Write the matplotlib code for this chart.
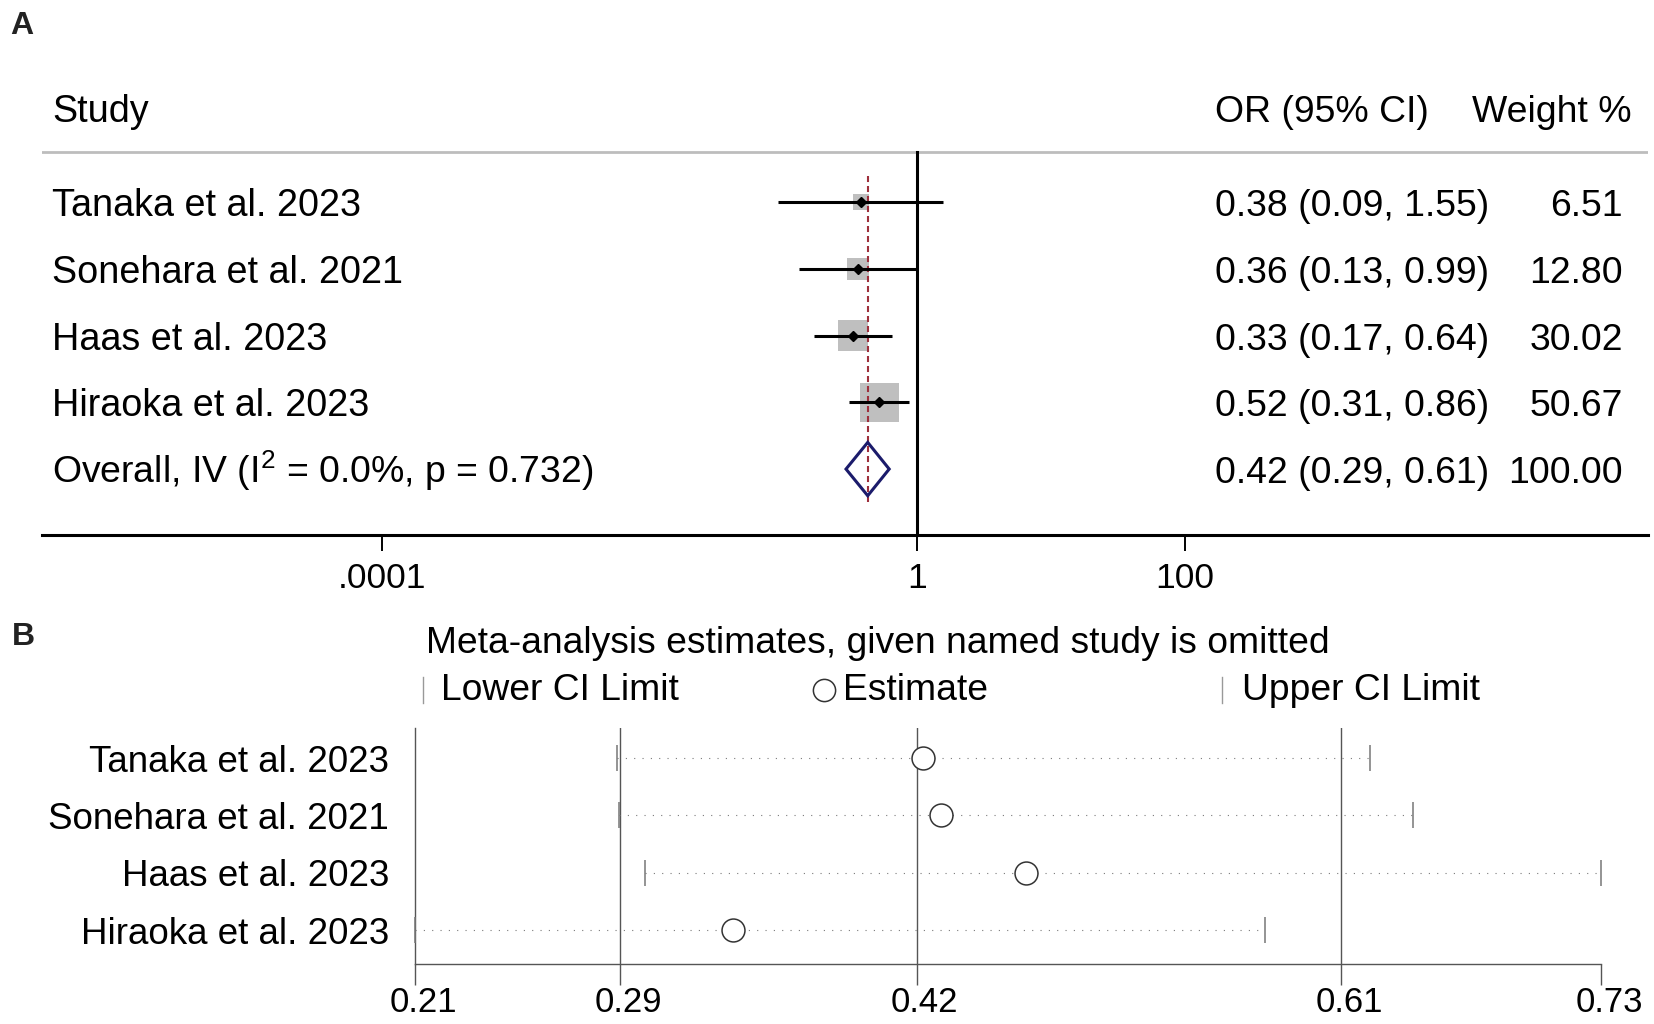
import numpy as np
import matplotlib
matplotlib.use("Agg")
import matplotlib.pyplot as plt
import matplotlib.transforms as mtrans
from matplotlib.lines import Line2D
from matplotlib.patches import Polygon
from matplotlib.ticker import NullLocator

plt.rcParams['font.family'] = ['Liberation Sans', 'DejaVu Sans']
plt.rcParams['mathtext.fontset'] = 'custom'
plt.rcParams['mathtext.rm'] = 'Liberation Sans'

# ---- data, panel A (forest plot)
studies = ["Tanaka et al. 2023", "Sonehara et al. 2021", "Haas et al. 2023", "Hiraoka et al. 2023"]
or_est = [0.38, 0.36, 0.33, 0.52]
or_lo = [0.09, 0.13, 0.17, 0.31]
or_hi = [1.55, 0.99, 0.64, 0.86]
weights = [6.51, 12.80, 30.02, 50.67]
pooled_est = 0.425
pooled_lo = 0.2924
pooled_hi = 0.615
overall_label = r"Overall, IV (I$^{2}$ = 0.0%, p = 0.732)"
a_ticks = [1e-4, 1, 100]
a_ticklabels = [".0001", "1", "100"]

# ---- data, panel B (leave-one-out)
omit_est = [0.428, 0.436, 0.474, 0.343]
omit_lo = [0.291, 0.292, 0.3034, 0.2005]
omit_hi = [0.628, 0.647, 0.7313, 0.581]
b_ticklabels = ["0.21", "0.29", "0.42", "0.61", "0.73"]

W, H = 1654, 1024
fig = plt.figure(figsize=(W / 100, H / 100), dpi=100)


def fx(px):
    return px / W


def fy(py):
    return 1 - py / H


# ================= panel A
axA = fig.add_axes([fx(42), fy(535), fx(1648 - 42), (535 - 60) / H])
rows = np.arange(1, len(studies) + 1)
row_ov = len(studies) + 1
axA.set_xscale('log')
axA.set_xlim(10 ** -6.543, 10 ** 5.46)
axA.set_ylim(5.989, -1.135)
for s in ['top', 'right', 'left']:
    axA.spines[s].set_visible(False)
axA.spines['bottom'].set_linewidth(2.2)
axA.set_xticks(a_ticks)
axA.set_xticklabels(a_ticklabels)
axA.xaxis.set_minor_locator(NullLocator())
axA.tick_params(axis='x', length=11.5, width=1.4, pad=8, labelsize=25.5)
axA.set_yticks([])

# header rule and null line
axA.axhline(0.25, color='#BDBDBD', lw=2, zorder=1)
axA.plot([1, 1], [0.25, 5.989], color='black', lw=2.2, zorder=3, clip_on=False)

# weight boxes
side_pt = (3.2 + 5.03 * np.sqrt(weights)) * 0.72
axA.scatter(or_est, rows, marker='s', s=side_pt ** 2, color='#BFBFBF', linewidths=0, zorder=2)
# pooled line
axA.plot([pooled_est, pooled_est], [0.6, 5.49], color='#9E2F3C', lw=1.5,
         ls=(0, (2.9, 1.9)), zorder=3)
# CIs and point estimates
axA.hlines(rows, or_lo, or_hi, color='black', lw=2.2, zorder=4)
axA.plot(or_est, rows, 'D', ms=5.1, color='black', zorder=5)
# overall diamond
dia = Polygon([[pooled_lo, row_ov], [pooled_est, row_ov - 0.4],
               [pooled_hi, row_ov], [pooled_est, row_ov + 0.4]],
              closed=True, facecolor='none', edgecolor='#1B1B6B', lw=2.2,
              joinstyle='miter', zorder=4)
axA.add_patch(dia)

tr = axA.get_yaxis_transform()


def ax_x(px):
    return (px - 42) / 1606


fs = 27.2
fs_num = 26.9
axA.text(ax_x(52), -0.2, "Study", transform=tr, va='baseline', fontsize=fs)
axA.text(ax_x(1215), -0.2, "OR (95% CI)", transform=tr, va='baseline', fontsize=fs_num)
axA.text(ax_x(1632), -0.2, "Weight %", transform=tr, va='baseline', ha='right', fontsize=fs_num)
for i, name in enumerate(studies):
    r = rows[i] + 0.21
    axA.text(ax_x(52), r, name, transform=tr, va='baseline', fontsize=fs)
    axA.text(ax_x(1215), r, f"{or_est[i]:.2f} ({or_lo[i]:.2f}, {or_hi[i]:.2f})",
             transform=tr, va='baseline', fontsize=fs_num)
    axA.text(ax_x(1623), r, f"{weights[i]:.2f}", transform=tr, va='baseline',
             ha='right', fontsize=fs_num)
axA.text(ax_x(52), row_ov + 0.21, overall_label, transform=tr, va='baseline', fontsize=26.9)
axA.text(ax_x(1215), row_ov + 0.21, f"{0.42:.2f} ({pooled_lo:.2f}, {pooled_hi:.2f})",
         transform=tr, va='baseline', fontsize=fs_num)
axA.text(ax_x(1623), row_ov + 0.21, f"{sum(weights):.2f}", transform=tr, va='baseline',
         ha='right', fontsize=fs_num)

# ================= panel B
axB = fig.add_axes([fx(415), fy(964), fx(1601 - 415), (964 - 728) / H])
axB.set_xlim(min(omit_lo), max(omit_hi))
axB.set_ylim(4.593, 0.476)
for s in ['top', 'right']:
    axB.spines[s].set_visible(False)
for s in ['left', 'bottom']:
    axB.spines[s].set_color('#555555')
    axB.spines[s].set_linewidth(1)
for v in [pooled_lo, pooled_est, pooled_hi]:
    axB.axvline(v, color='#555555', lw=1, zorder=1)
axB.set_xticks([min(omit_lo), pooled_lo, pooled_est, pooled_hi, max(omit_hi)])
axB.set_xticklabels(b_ticklabels)
axB.tick_params(axis='x', length=15, width=1, color='#555555', labelsize=25, pad=1)
shift = mtrans.ScaledTranslation(8 / 100, 0, fig.dpi_scale_trans)
for lab in axB.get_xticklabels():
    lab.set_transform(lab.get_transform() + shift)
axB.set_yticks(rows)
axB.set_yticklabels(studies)
axB.tick_params(axis='y', length=0, pad=18.7, labelsize=26.5)

axB.hlines(rows, omit_lo, omit_hi, color='#7A7A7A', lw=0.8, ls=(0, (1, 6.5)), zorder=2)
axB.plot(omit_lo, rows, '|', ms=19.4, mew=1.1, color='#777777', zorder=3, clip_on=False)
axB.plot(omit_hi, rows, '|', ms=19.4, mew=1.1, color='#777777', zorder=3, clip_on=False)
axB.plot(omit_est, rows, 'o', ms=16.5, mfc='white', mec='#333333', mew=1.1, zorder=4)

# title and legend of panel B
fs_b = 26.8
fig.text(fx(426), fy(653), "Meta-analysis estimates, given named study is omitted",
         va='baseline', fontsize=fs_b)
fig.add_artist(Line2D([fx(423), fx(423)], [fy(677), fy(703)], color='#999999', lw=1))
fig.text(fx(441), fy(700), "Lower CI Limit", va='baseline', fontsize=fs_b)
fig.add_artist(Line2D([fx(824)], [fy(690)], marker='o', ms=16, mfc='white',
                      mec='#333333', mew=1.1, ls='none'))
fig.text(fx(843), fy(700), "Estimate", va='baseline', fontsize=fs_b)
fig.add_artist(Line2D([fx(1222), fx(1222)], [fy(677), fy(703)], color='#999999', lw=1))
fig.text(fx(1242), fy(700), "Upper CI Limit", va='baseline', fontsize=fs_b)

# panel letters
fig.text(fx(10), fy(34), "A", fontweight='bold', fontsize=23, va='baseline', color='#222222')
fig.text(fx(12), fy(645), "B", fontweight='bold', fontsize=23, va='baseline', color='#222222')

fig.savefig("out.png", dpi=100)
